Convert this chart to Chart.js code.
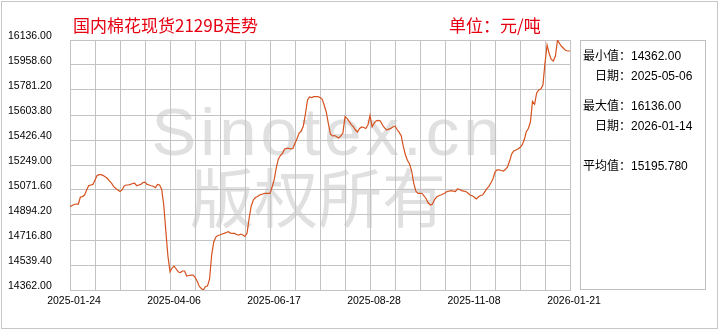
<!DOCTYPE html>
<html>
<head>
<meta charset="utf-8">
<script src="https://cdn.jsdelivr.net/npm/chart.js@4.4.1/dist/chart.umd.min.js"></script>
<style>
  body { margin: 0; background: #fff; }
  #wrap { position: relative; width: 720px; height: 330px; overflow: hidden;
          font-family: "Liberation Sans", "Noto Sans CJK SC", sans-serif; }
  #frame { position: absolute; left: 1px; top: 1px; width: 717px; height: 328px;
           box-sizing: border-box; border: 1px solid #c6c6c6; }
  canvas { position: absolute; left: 0; top: 0; }
  .title { position: absolute; top: 14px; font-size: 17px; line-height: 22px; color: #e60012;
           font-family: "Noto Sans CJK SC", sans-serif; white-space: nowrap; }
  #panel { position: absolute; left: 580px; top: 40px; width: 126px; height: 250px;
           box-sizing: border-box; border: 1px solid #c0c0c0; }
  .stat { position: absolute; font-size: 12px; line-height: 14px; color: #000; white-space: nowrap; }
</style>
</head>
<body>
<div id="wrap">
  <div id="frame"></div>
  <canvas id="priceChart" width="720" height="330"></canvas>
  <div class="title" style="left:73px">国内棉花现货2129B走势</div>
  <div class="title" style="left:449px">单位：元/吨</div>
  <div id="panel"></div>
  <div class="stat" style="left:583px; top:49px">最小值：14362.00</div>
  <div class="stat" style="left:595px; top:69px">日期：2025-05-06</div>
  <div class="stat" style="left:583px; top:99px">最大值：16136.00</div>
  <div class="stat" style="left:595px; top:119px">日期：2026-01-14</div>
  <div class="stat" style="left:583px; top:159px">平均值：15195.780</div>
</div>
<script>
// etiquetas del eje x (una cada 48 sesiones)
const xLabels = ['2025-01-24', '2025-04-06', '2025-06-17', '2025-08-28', '2025-11-08', '2026-01-21'];

// marcas del eje y
const yTicks = [14362.00, 14539.40, 14716.80, 14894.20, 15071.60, 15249.00,
                15426.40, 15603.80, 15781.20, 15958.60, 16136.00];

// precio diario, una sesion por valor
const prices = [
  14953, 14962, 14969, 14972, 14972, 15022, 15025, 15036, 15072, 15103,
  15107, 15111, 15143, 15174, 15180, 15180, 15174, 15164, 15153, 15135,
  15119, 15096, 15082, 15072, 15061, 15072, 15100, 15107, 15107, 15111,
  15118, 15121, 15102, 15107, 15111, 15125, 15128, 15111, 15107, 15102,
  15098, 15088, 15111, 15107, 15077, 14965, 14781, 14603, 14492, 14518,
  14532, 14511, 14490, 14486, 14497, 14497, 14461, 14465, 14468, 14468,
  14454, 14426, 14390, 14373, 14362, 14387, 14390, 14440, 14610, 14703,
  14738, 14749, 14752, 14759, 14764, 14770, 14776, 14766, 14764, 14764,
  14756, 14752, 14759, 14752, 14742, 14766, 14873, 14958, 15001, 15018,
  15025, 15036, 15040, 15047, 15048, 15048, 15048, 15093, 15143, 15228,
  15292, 15316, 15332, 15363, 15367, 15367, 15363, 15366, 15403, 15437,
  15476, 15490, 15526, 15611, 15710, 15732, 15728, 15734, 15734, 15734,
  15728, 15717, 15675, 15625, 15545, 15469, 15455, 15458, 15450, 15441,
  15455, 15476, 15592, 15580, 15558, 15536, 15521, 15497, 15483, 15508,
  15519, 15515, 15508, 15533, 15600, 15519, 15547, 15563, 15565, 15561,
  15533, 15512, 15497, 15504, 15509, 15519, 15526, 15501, 15480, 15455,
  15379, 15320, 15281, 15256, 15206, 15121, 15064, 15048, 15048, 15047,
  15029, 15008, 14979, 14965, 14972, 15004, 15022, 15031, 15036, 15043,
  15050, 15061, 15064, 15067, 15064, 15061, 15079, 15075, 15067, 15064,
  15061, 15050, 15036, 15031, 15022, 15008, 15022, 15033, 15036, 15057,
  15079, 15096, 15121, 15150, 15199, 15214, 15214, 15210, 15206, 15217,
  15235, 15277, 15327, 15348, 15355, 15363, 15373, 15391, 15426, 15483,
  15508, 15554, 15700, 15680, 15760, 15781, 15788, 15817, 15973, 16100,
  16040, 15998, 15987, 16022, 16136, 16110, 16090, 16076, 16061, 16058,
  16058
];

const markLines = ['Sinotex.cn', '版权所有'];

const gridColor = '#c3c3c3';
const lineColor = 'rgb(214, 82, 30)';
const tickFont = { family: '"Liberation Sans", sans-serif', size: 10.5 };

// marca de agua debajo de la rejilla
const watermark = {
  id: 'watermark',
  beforeDraw(c) {
    const g = c.ctx;
    g.save();
    g.fillStyle = '#e0e0e0';
    g.textAlign = 'center';
    g.textBaseline = 'alphabetic';
    g.font = '67px "Liberation Sans"';
    g.letterSpacing = '4px';
    g.fillText(markLines[0], 328, 155);
    g.font = '64px "Noto Sans CJK SC"';
    g.letterSpacing = '0px';
    g.fillText(markLines[1], 318, 222);
    g.restore();
  }
};

const points = prices.map((p, i) => ({ x: i, y: p }));

new Chart(document.getElementById('priceChart').getContext('2d'), {
  type: 'line',
  data: {
    datasets: [{
      data: points,
      borderColor: lineColor,
      borderWidth: 1.2,
      pointRadius: 0,
      tension: 0,
      fill: false
    }]
  },
  options: {
    responsive: false,
    animation: false,
    devicePixelRatio: 1,
    layout: { padding: { left: 8, top: 40, right: 150, bottom: 0 } },
    plugins: { legend: { display: false }, tooltip: { enabled: false } },
    scales: {
      x: {
        type: 'linear',
        min: 0,
        max: 240,
        afterFit: s => { s.height = 40; },
        grid: { color: gridColor, drawTicks: false },
        border: { color: gridColor },
        ticks: {
          stepSize: 12,
          autoSkip: false,
          maxRotation: 0,
          padding: 5,
          labelOffset: 4,
          color: '#000',
          font: tickFont,
          callback: v => (v % 48 === 0 ? xLabels[v / 48] : '')
        }
      },
      y: {
        min: 14362,
        max: 16136,
        afterFit: s => { s.width = 62; },
        afterBuildTicks: s => { s.ticks = yTicks.map(v => ({ value: v })); },
        grid: { color: gridColor, drawTicks: false },
        border: { color: gridColor },
        ticks: {
          crossAlign: 'far',
          labelOffset: -4,
          color: '#000',
          font: tickFont,
          callback: v => Number(v).toFixed(2)
        }
      }
    }
  },
  plugins: [watermark]
});
</script>
</body>
</html>
